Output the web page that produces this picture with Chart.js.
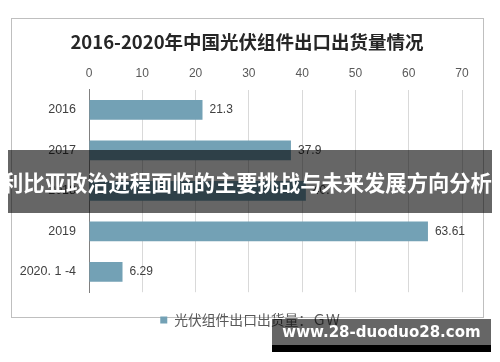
<!DOCTYPE html>
<html>
<head>
<meta charset="utf-8">
<script src="https://cdn.jsdelivr.net/npm/chart.js@4/dist/chart.umd.min.js"></script>
<style>
  body { margin: 0; background: #fff; }
  #wrap { position: relative; width: 500px; height: 362px; overflow: hidden; }
  #frame { position: absolute; left: 11px; top: 18px; width: 471px; height: 298px; border: 1px solid #bfbfbf; }
  canvas { position: absolute; left: 0; top: 0; }
  #banner { position: absolute; left: 8px; top: 150px; width: 484px; height: 63px; background: rgba(0,0,0,0.6);
    color: #fff; font: bold 21.3px "Noto Sans CJK SC", sans-serif; line-height: 63px; white-space: nowrap; text-align: center; }
  #banner span { position: relative; left: -6px; }
  #mark { position: absolute; left: 272px; top: 319px; width: 219px; height: 26px; background: rgba(0,0,0,0.6);
    border-bottom: 7px solid #000; color: #fff; font: bold 15px "DejaVu Sans", sans-serif; line-height: 27px;
    text-align: center; white-space: nowrap; }
</style>
</head>
<body>
<div id="wrap">
  <div id="frame"></div>
  <canvas id="myChart" width="500" height="362"></canvas>
  <div id="banner"><span>利比亚政治进程面临的主要挑战与未来发展方向分析</span></div>
  <div id="mark">www.28-duoduo28.com</div>
</div>
<script>
const years = ['2016', '2017', '2018', '2019', '2020. 1 -4'];
const shipments = [21.3, 37.9, 40.7, 63.61, 6.29];
const xTicks = [0, 10, 20, 30, 40, 50, 60, 70];

// value labels at the end of each bar
const barLabels = {
  id: 'barLabels',
  afterDatasetsDraw(chart) {
    const ctx = chart.ctx;
    ctx.save();
    ctx.font = '12px "Liberation Sans", sans-serif';
    ctx.fillStyle = '#404040';
    ctx.textBaseline = 'middle';
    chart.getDatasetMeta(0).data.forEach((bar, i) => {
      ctx.fillText(String(shipments[i]), bar.x + 7, bar.y);
    });
    ctx.restore();
  }
};

// title and legend sit a bit right of the plot centre in the original
const nudge = {
  id: 'nudge',
  afterLayout(chart) {
    const shift = (box, dx) => { box.left += dx; box.right += dx; };
    shift(chart.titleBlock, 6.5);
    shift(chart.legend, 9.5);
  }
};

const myChart = new Chart(document.getElementById('myChart'), {
  type: 'bar',
  data: {
    labels: years,
    datasets: [{
      label: '光伏组件出口出货量：ＧＷ',
      data: shipments,
      backgroundColor: '#73a1b5',
      borderColor: '#73a1b5',
      borderWidth: 0,
      categoryPercentage: 1,
      barPercentage: 0.49,
    }]
  },
  options: {
    indexAxis: 'y',
    responsive: false,
    animation: false,
    layout: { padding: { top: 31, left: 19, right: 38, bottom: 25 } },
    scales: {
      x: {
        position: 'top',
        min: 0,
        max: 70,
        afterBuildTicks: (axis) => { axis.ticks = xTicks.map(v => ({ value: v })); },
        grid: { color: '#d9d9d9', drawTicks: false },
        border: { display: false },
        ticks: { color: '#595959', font: { size: 12, family: '"Liberation Sans", sans-serif' }, padding: 9 }
      },
      y: {
        afterFit: (axis) => { axis.width = 70; },
        grid: { display: false, drawTicks: false },
        border: { color: '#808080', width: 1 },
        ticks: { color: '#404040', font: { size: 12.5, family: '"Liberation Sans", sans-serif' }, padding: 13 }
      }
    },
    plugins: {
      title: {
        display: true,
        text: '2016-2020年中国光伏组件出口出货量情况',
        color: '#262626',
        font: { size: 18.5, weight: 'bold', family: '"Noto Sans CJK SC", sans-serif' },
        padding: { top: 0, bottom: 4 }
      },
      legend: {
        position: 'bottom',
        labels: {
          color: '#595959',
          font: { size: 13.8, family: '"Noto Sans CJK SC", sans-serif' },
          boxWidth: 7,
          boxHeight: 7,
          padding: 21
        }
      },
      tooltip: { enabled: false }
    }
  },
  plugins: [barLabels, nudge]
});
</script>
</body>
</html>
